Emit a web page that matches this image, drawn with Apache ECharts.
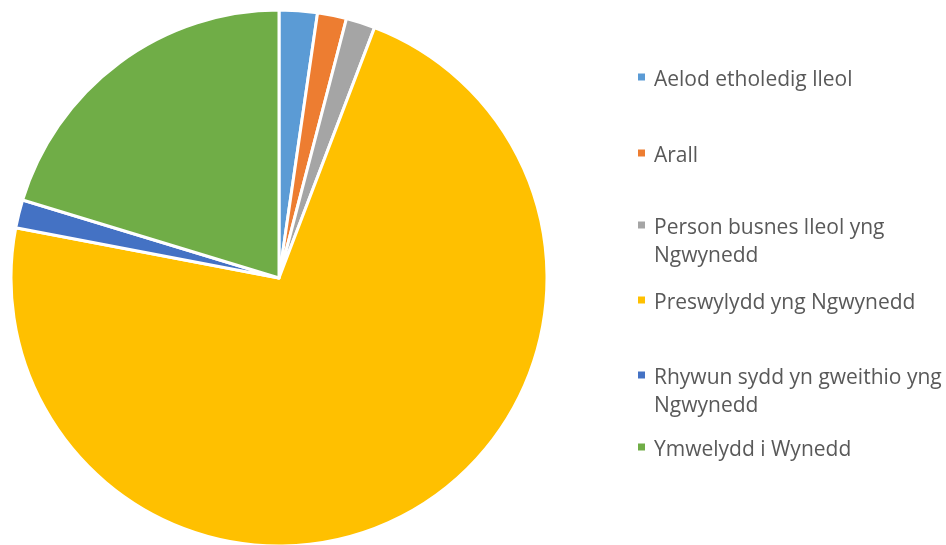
<!DOCTYPE html>
<html>
<head>
<meta charset="utf-8">
<script src="https://cdn.jsdelivr.net/npm/echarts@6/dist/echarts.min.js"></script>
<style>html,body{margin:0;padding:0;background:#fff}#c{width:946px;height:545px}</style>
</head>
<body>
<div id="c"></div>
<script>
const categories = ["Aelod etholedig lleol", "Arall", "Person busnes lleol yng Ngwynedd", "Preswylydd yng Ngwynedd", "Rhywun sydd yn gweithio yng Ngwynedd", "Ymwelydd i Wynedd"];
const legendLines = [["Aelod etholedig lleol"], ["Arall"], ["Person busnes lleol yng", "Ngwynedd"], ["Preswylydd yng Ngwynedd"], ["Rhywun sydd yn gweithio yng", "Ngwynedd"], ["Ymwelydd i Wynedd"]];
const values = [2.3, 1.75, 1.75, 72.2, 1.7, 20.3];
const colors = ["#5B9BD5", "#ED7D31", "#A5A5A5", "#FFC000", "#4472C4", "#70AD47"];

const legendY = [77, 153, 225, 300, 375, 447];
const chart = echarts.init(document.getElementById('c'), null, {renderer: 'canvas'});
const legends = categories.map((name, i) => {
  const lines = legendLines[i];
  const twoLine = lines.length > 1;
  const text = (twoLine ? '\n' : '') + lines.map(l => '{a|' + l + '}').join('\n');
  return {
    orient: 'vertical',
    left: 636,
    top: legendY[i] - (twoLine ? 42 : 14),
    padding: 0,
    itemWidth: 9,
    itemHeight: 9,
    itemGap: 0,
    icon: 'rect',
    selectedMode: false,
    data: [name],
    formatter: () => text,
    textStyle: {
      fontFamily: 'Open Sans',
      fontSize: 21,
      color: '#595959',
      lineHeight: 28,
      rich: {
        a: {
          fontFamily: 'Open Sans',
          fontSize: 21,
          color: '#595959',
          lineHeight: 28,
          padding: [6, 0, 0, 3]
        }
      }
    }
  };
});
chart.setOption({
  animation: false,
  color: colors,
  legend: legends,
  series: [{
    type: 'pie',
    center: [279, 278],
    radius: 268,
    startAngle: 90,
    clockwise: true,
    label: {show: false},
    labelLine: {show: false},
    itemStyle: {borderColor: '#fff', borderWidth: 3},
    emphasis: {disabled: true},
    data: categories.map((n, i) => ({name: n, value: values[i]}))
  }]
});
</script>
</body>
</html>
